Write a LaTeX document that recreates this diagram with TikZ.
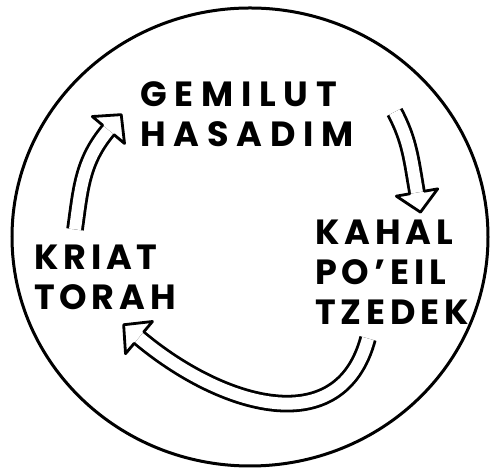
\documentclass[tikz,border=0pt]{standalone}
\usepackage{fontspec}
\setmainfont{Poppins}
\usetikzlibrary{decorations.markings}

\begin{document}
\begin{tikzpicture}[x=1pt,y=1pt,
  word/.style={font=\addfontfeature{LetterSpace=14}\fontsize{35}{40}\selectfont\bfseries,align=left,inner sep=3pt},
  wide/.style={font=\addfontfeature{LetterSpace=22}\fontsize{35}{40}\selectfont\bfseries},
  cyc/.style={double,double distance=12pt,line width=2.8pt,
    postaction={decorate,decoration={markings,mark=at position -0.3pt with {
      \draw[line width=2.8pt,line join=round,line cap=round]
        (0.3,7.4) -- (0.3,21) -- (20.3,0) -- (0.3,-21) -- (0.3,-7.4);}}}}]
\useasboundingbox (0,0) rectangle (490,470);
\draw[line width=3pt] (250,233) ellipse (238 and 229);
\node[word,wide] (gh) at (247,356) {GEMILUT\\HASADIM};
\node[word] (kt) at (105,193) {KRIAT\\TORAH};
\node[word] (kpt) at (392,198) {KAHAL\\PO'EIL\\TZEDEK};
\draw[cyc] ([xshift=-30pt,yshift=12pt]kt.north) to[out=82,in=-130] ([xshift=-29pt,yshift=-16pt]gh.west);
\draw[cyc] ([xshift=38pt,yshift=2pt]gh.east) to[out=-62,in=100] ([xshift=25pt,yshift=24pt]kpt.north);
\draw[cyc] ([xshift=-24pt,yshift=-11pt]kpt.south) to[out=-105,in=-40,looseness=1.2] ([xshift=34pt,yshift=-25pt]kt.south);
\end{tikzpicture}
\end{document}
